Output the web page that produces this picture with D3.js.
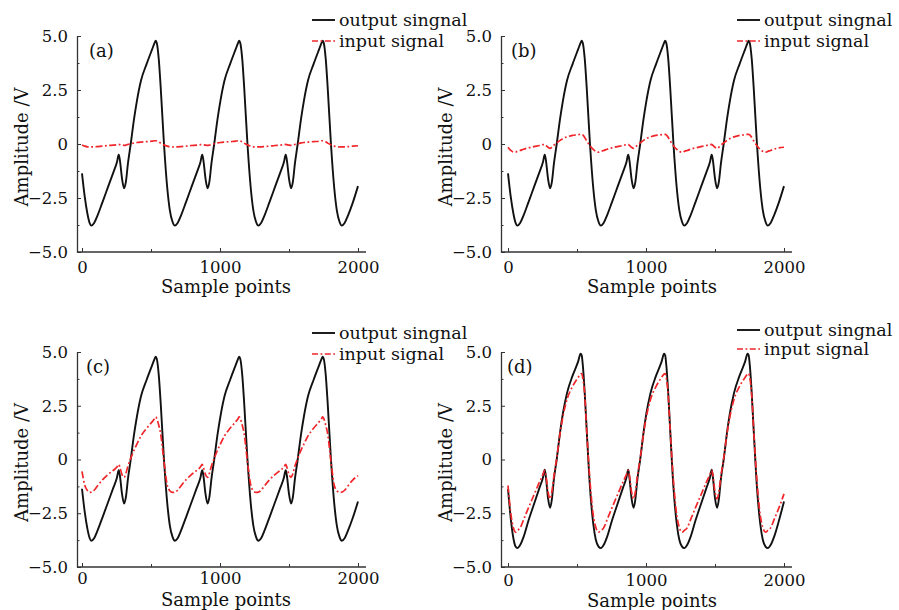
<!DOCTYPE html>
<html>
<head>
<meta charset="utf-8">
<script src="https://cdn.jsdelivr.net/npm/d3@7"></script>
<style>
  body { margin: 0; background: #fff; }
  svg text { font-family: "DejaVu Serif", serif; fill: #111; }
</style>
</head>
<body>
<svg id="chart" width="899" height="610"></svg>
<script>
// Sample positions shared by every series
const samplePoints = [
  0, 20, 40, 55,
  68, 88, 113, 148, 188, 228, 253, 266, 274, 290, 305, 318, 333, 353, 378, 398, 428, 468, 508, 526, 534, 542, 556, 570, 594, 618, 636, 656,
  673, 693, 718, 753, 793, 833, 858, 871, 879, 895, 910, 923, 938, 958, 983, 1003, 1033, 1073, 1113, 1131, 1139, 1147, 1161, 1175, 1199, 1223, 1241, 1261,
  1278, 1298, 1323, 1358, 1398, 1438, 1463, 1476, 1484, 1500, 1515, 1528, 1543, 1563, 1588, 1608, 1638, 1678, 1718, 1736, 1744, 1752, 1766, 1780, 1804, 1828, 1846, 1866,
  1883, 1903, 1928, 1963, 2000
];

// output signal, panels (a)-(c)
const outputABC = [
  -1.36, -2.45, -3.25, -3.65,
  -3.78, -3.66, -3.3, -2.7, -2.0, -1.3, -0.85, -0.5, -0.72, -1.6, -2.05, -1.75, -0.9, 0, 1.2, 2.0, 2.95, 3.7, 4.38, 4.68, 4.78, 4.68, 3.95, 2.65, 0, -2.05, -3.05, -3.6,
  -3.78, -3.66, -3.3, -2.7, -2.0, -1.3, -0.85, -0.5, -0.72, -1.6, -2.05, -1.75, -0.9, 0, 1.2, 2.0, 2.95, 3.7, 4.38, 4.68, 4.78, 4.68, 3.95, 2.65, 0, -2.05, -3.05, -3.6,
  -3.78, -3.66, -3.3, -2.7, -2.0, -1.3, -0.85, -0.5, -0.72, -1.6, -2.05, -1.75, -0.9, 0, 1.2, 2.0, 2.95, 3.7, 4.38, 4.68, 4.78, 4.68, 3.95, 2.65, 0, -2.05, -3.05, -3.6,
  -3.78, -3.66, -3.3, -2.7, -1.95
];

// output signal, panel (d)
const outputD = [
  -1.37, -2.75, -3.7, -4.05,
  -4.12, -3.98, -3.6, -2.85, -2.08, -1.32, -0.85, -0.48, -0.78, -1.8, -2.25, -1.85, -0.9, 0, 1.3, 2.15, 3.1, 3.9, 4.55, 4.92, 4.85, 4.4, 3.1, 1.4, -1.3, -3.0, -3.72, -4.05,
  -4.12, -3.98, -3.6, -2.85, -2.08, -1.32, -0.85, -0.48, -0.78, -1.8, -2.25, -1.85, -0.9, 0, 1.3, 2.15, 3.1, 3.9, 4.55, 4.92, 4.85, 4.4, 3.1, 1.4, -1.3, -3.0, -3.72, -4.05,
  -4.12, -3.98, -3.6, -2.85, -2.08, -1.32, -0.85, -0.48, -0.78, -1.8, -2.25, -1.85, -0.9, 0, 1.3, 2.15, 3.1, 3.9, 4.55, 4.92, 4.85, 4.4, 3.1, 1.4, -1.3, -3.0, -3.72, -4.05,
  -4.12, -3.98, -3.6, -2.85, -1.95
];

// input signals
const inputA = [
  -0.05, -0.1, -0.13, -0.14,
  -0.13, -0.13, -0.12, -0.1, -0.07, -0.05, -0.03, -0.02, -0.03, -0.05, -0.06, -0.05, -0.02, 0.01, 0.05, 0.07, 0.09, 0.11, 0.13, 0.15, 0.15, 0.14, 0.1, 0.04, -0.04, -0.1, -0.13, -0.14,
  -0.13, -0.13, -0.12, -0.1, -0.07, -0.05, -0.03, -0.02, -0.03, -0.05, -0.06, -0.05, -0.02, 0.01, 0.05, 0.07, 0.09, 0.11, 0.13, 0.15, 0.15, 0.14, 0.1, 0.04, -0.04, -0.1, -0.13, -0.14,
  -0.13, -0.13, -0.12, -0.1, -0.07, -0.05, -0.03, -0.02, -0.03, -0.05, -0.06, -0.05, -0.02, 0.01, 0.05, 0.07, 0.09, 0.11, 0.13, 0.15, 0.15, 0.14, 0.1, 0.04, -0.04, -0.1, -0.13, -0.14,
  -0.13, -0.13, -0.12, -0.1, -0.08
];

const inputB = [
  -0.15, -0.3, -0.37, -0.37,
  -0.34, -0.3, -0.24, -0.18, -0.12, -0.07, -0.03, -0.02, -0.06, -0.15, -0.2, -0.15, -0.05, 0.05, 0.17, 0.25, 0.33, 0.4, 0.43, 0.45, 0.45, 0.42, 0.3, 0.15, -0.08, -0.25, -0.34, -0.38,
  -0.34, -0.3, -0.24, -0.18, -0.12, -0.07, -0.03, -0.02, -0.06, -0.15, -0.2, -0.15, -0.05, 0.05, 0.17, 0.25, 0.33, 0.4, 0.43, 0.45, 0.45, 0.42, 0.3, 0.15, -0.08, -0.25, -0.34, -0.38,
  -0.34, -0.3, -0.24, -0.18, -0.12, -0.07, -0.03, -0.02, -0.06, -0.15, -0.2, -0.15, -0.05, 0.05, 0.17, 0.25, 0.33, 0.4, 0.43, 0.45, 0.45, 0.42, 0.3, 0.15, -0.08, -0.25, -0.34, -0.38,
  -0.34, -0.3, -0.24, -0.18, -0.15
];

const inputC = [
  -0.55, -1.2, -1.45, -1.53,
  -1.52, -1.43, -1.22, -0.95, -0.7, -0.5, -0.35, -0.23, -0.35, -0.7, -0.83, -0.65, -0.3, 0.05, 0.45, 0.72, 1.1, 1.45, 1.75, 1.9, 1.98, 1.9, 1.6, 1.2, -0.1, -1.2, -1.45, -1.53,
  -1.52, -1.43, -1.22, -0.95, -0.7, -0.5, -0.35, -0.23, -0.35, -0.7, -0.83, -0.65, -0.3, 0.05, 0.45, 0.72, 1.1, 1.45, 1.75, 1.9, 1.98, 1.9, 1.6, 1.2, -0.1, -1.2, -1.45, -1.53,
  -1.52, -1.43, -1.22, -0.95, -0.7, -0.5, -0.35, -0.23, -0.35, -0.7, -0.83, -0.65, -0.3, 0.05, 0.45, 0.72, 1.1, 1.45, 1.75, 1.9, 1.98, 1.9, 1.6, 1.2, -0.1, -1.2, -1.45, -1.53,
  -1.52, -1.43, -1.22, -0.95, -0.75
];

const inputD = [
  -1.21, -2.5, -3.2, -3.38,
  -3.3, -3.18, -2.8, -2.25, -1.65, -1.05, -0.7, -0.5, -0.7, -1.5, -1.83, -1.5, -0.75, 0.05, 1.25, 2.0, 2.8, 3.4, 3.82, 3.98, 4.0, 3.8, 3.0, 1.4, -1.0, -2.6, -3.15, -3.38,
  -3.3, -3.18, -2.8, -2.25, -1.65, -1.05, -0.7, -0.5, -0.7, -1.5, -1.83, -1.5, -0.75, 0.05, 1.25, 2.0, 2.8, 3.4, 3.82, 3.98, 4.0, 3.8, 3.0, 1.4, -1.0, -2.6, -3.15, -3.38,
  -3.3, -3.18, -2.8, -2.25, -1.65, -1.05, -0.7, -0.5, -0.7, -1.5, -1.83, -1.5, -0.75, 0.05, 1.25, 2.0, 2.8, 3.4, 3.82, 3.98, 4.0, 3.8, 3.0, 1.4, -1.0, -2.6, -3.15, -3.38,
  -3.3, -3.18, -2.8, -2.25, -1.6
];

// Axis ticks and labels
const yTicks = [-5, -2.5, 0, 2.5, 5];
const yMinorTicks = [-3.75, -1.25, 1.25, 3.75];
const xTicks = [0, 1000, 2000];
const xMinorTicks = [500, 1500];
const legendLabels = ['output singnal', 'input signal'];
const xTitle = 'Sample points';
const yTitle = 'Amplitude /V';

// Panel layout
const panels = [
  { tag: '(a)', output: outputABC, input: inputA, axisX: 77, x0: 82, x1: 358, top: 36, bottom: 252,
    tickLabelY: 273, titleY: 293, legendX: 312, legendY: 20, legendGap: 21, tagX: 89, tagY: 57 },
  { tag: '(b)', output: outputABC, input: inputB, axisX: 501, x0: 508, x1: 784, top: 36, bottom: 252,
    tickLabelY: 273, titleY: 293, legendX: 737, legendY: 20, legendGap: 21, tagX: 511, tagY: 57 },
  { tag: '(c)', output: outputABC, input: inputC, axisX: 77, x0: 82, x1: 358, top: 352, bottom: 567,
    tickLabelY: 584, titleY: 606, legendX: 312, legendY: 333, legendGap: 21, tagX: 86, tagY: 373 },
  { tag: '(d)', output: outputD, input: inputD, axisX: 501, x0: 508, x1: 784, top: 352, bottom: 567,
    tickLabelY: 586, titleY: 607, legendX: 737, legendY: 330, legendGap: 19, tagX: 507, tagY: 373 }
];

const svg = d3.select('#chart');
const axisColour = '#333';
const redColour = '#f0262a';
const dashDot = '7,2.5,1.8,2.5';

const drawPanel = (p) => {
  const g = svg.append('g');

  const x = d3.scaleLinear().domain([0, 2000]).range([p.x0, p.x1]);
  const y = d3.scaleLinear().domain([-5, 5]).range([p.bottom, p.top]);

  // y axis, ticks pointing inward
  const yAxis = g.append('g')
    .attr('transform', `translate(${p.axisX},0)`)
    .call(d3.axisLeft(y).tickValues(yTicks).tickSizeInner(-4).tickSizeOuter(0).tickPadding(9)
      .tickFormat(d => d === 0 ? '0' : d3.format('.1f')(d)));
  yAxis.select('.domain').attr('stroke', axisColour).attr('stroke-width', 1.3);
  yAxis.selectAll('line').attr('stroke', axisColour);
  yAxis.selectAll('text').style('font-size', '16.5px').attr('fill', '#111');

  g.append('g')
    .attr('transform', `translate(${p.axisX},0)`)
    .call(d3.axisLeft(y).tickValues(yMinorTicks).tickSizeInner(-2.5).tickSizeOuter(0).tickFormat(''))
    .call(a => a.select('.domain').remove())
    .selectAll('line').attr('stroke', axisColour);

  // x axis line runs from the y axis past the last tick
  g.append('line')
    .attr('x1', p.axisX).attr('x2', x(2000) + 8)
    .attr('y1', p.bottom).attr('y2', p.bottom)
    .attr('stroke', axisColour).attr('stroke-width', 1.3);

  const xAxis = g.append('g')
    .attr('transform', `translate(0,${p.bottom})`)
    .call(d3.axisBottom(x).tickValues(xTicks).tickSizeInner(-4).tickSizeOuter(0).tickFormat(d3.format('d')));
  xAxis.select('.domain').remove();
  xAxis.selectAll('line').attr('stroke', axisColour);
  xAxis.selectAll('text')
    .style('font-size', '16.5px').attr('fill', '#111')
    .attr('y', p.tickLabelY - p.bottom).attr('dy', null);

  g.append('g')
    .attr('transform', `translate(0,${p.bottom})`)
    .call(d3.axisBottom(x).tickValues(xMinorTicks).tickSizeInner(-3).tickSizeOuter(0).tickFormat(''))
    .call(a => a.select('.domain').remove())
    .selectAll('line').attr('stroke', axisColour);

  // axis titles
  g.append('text')
    .attr('x', (p.x0 + p.x1) / 2 + 6).attr('y', p.titleY)
    .attr('text-anchor', 'middle')
    .style('font-size', '18px')
    .text(xTitle);

  g.append('text')
    .attr('transform', `translate(${p.axisX - 49},${(p.top + p.bottom) / 2 + 3}) rotate(-90)`)
    .attr('text-anchor', 'middle')
    .style('font-size', '18px')
    .text(yTitle);

  // signals
  const line = d3.line()
    .x((d, i) => x(samplePoints[i]))
    .y(d => y(d))
    .curve(d3.curveMonotoneX);

  g.append('path')
    .datum(p.output)
    .attr('d', line)
    .attr('fill', 'none')
    .attr('stroke', '#111')
    .attr('stroke-width', 1.9)
    .attr('stroke-linejoin', 'round');

  g.append('path')
    .datum(p.input)
    .attr('d', line)
    .attr('fill', 'none')
    .attr('stroke', redColour)
    .attr('stroke-width', 1.7)
    .attr('stroke-dasharray', dashDot);

  // panel tag
  g.append('text')
    .attr('x', p.tagX).attr('y', p.tagY)
    .style('font-size', '18px')
    .text(p.tag);

  // legend
  const lg = g.append('g').attr('transform', `translate(${p.legendX},${p.legendY})`);
  lg.append('line').attr('x1', 0).attr('x2', 23).attr('y1', 0).attr('y2', 0)
    .attr('stroke', '#111').attr('stroke-width', 1.9);
  lg.append('line').attr('x1', 0).attr('x2', 23).attr('y1', p.legendGap).attr('y2', p.legendGap)
    .attr('stroke', redColour).attr('stroke-width', 1.7).attr('stroke-dasharray', '6,2.5,1.8,2.5');
  lg.selectAll('text.legend').data(legendLabels).enter().append('text')
    .attr('class', 'legend')
    .attr('x', 27)
    .attr('y', (d, i) => i * p.legendGap + 6)
    .style('font-size', '17.5px')
    .text(d => d);
};

panels.forEach(drawPanel);
</script>
</body>
</html>
